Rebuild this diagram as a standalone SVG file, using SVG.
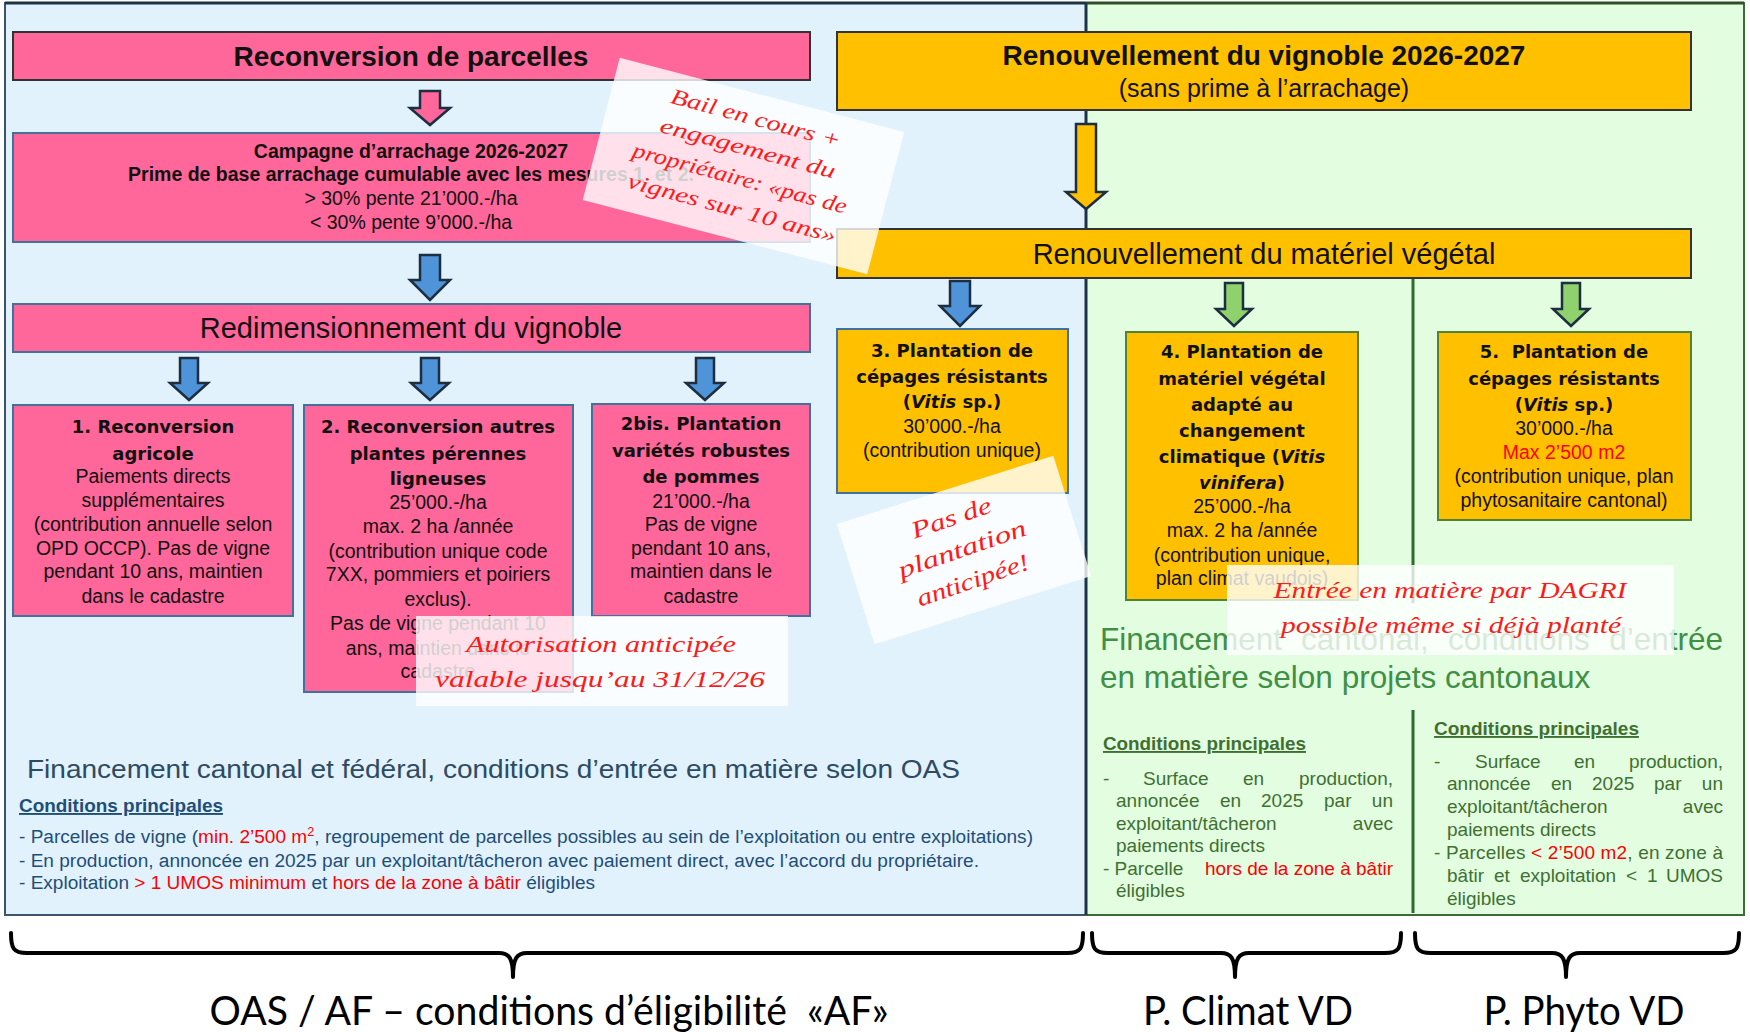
<svg xmlns="http://www.w3.org/2000/svg" width="1750" height="1032" viewBox="0 0 1750 1032">
<style>
text{font-family:"Liberation Sans",Arial,sans-serif;fill:#111}
.c{text-anchor:middle}
.e{text-anchor:end}
.t28{font-size:28px;font-weight:bold}
.t29{font-size:29px}
.sub{font-size:25px}
.cb{font-size:19.5px;font-weight:bold}
.b{font-size:19.5px}
.bh{font-family:"DejaVu Sans",Verdana,sans-serif;font-size:18px;font-weight:bold}
.pink{fill:#ff6699;stroke:#41719c;stroke-width:2}
.pinkT{fill:#ff6699;stroke:#333;stroke-width:2}
.org{fill:#ffc000;stroke:#333;stroke-width:2}
.orgB{fill:#ffc000;stroke:#41719c;stroke-width:2}
.orgG{fill:#ffc000;stroke:#548235;stroke-width:2}
.arB{fill:#4f93d8;stroke:#1c2e40;stroke-width:2.5}
.arG{fill:#8fd16d;stroke:#1c2e40;stroke-width:2.5}
.arP{fill:#ff6699;stroke:#1c2e40;stroke-width:2.5}
.arO{fill:#ffc000;stroke:#1c2e40;stroke-width:2.5}
.bl{font-size:18px;fill:#1f4e79}
.gl{font-size:19px;fill:#3f7030}
.gh{font-size:31.5px;fill:#3f8f45}
.cp{font-size:19px;font-weight:bold;text-decoration:underline}
.note{fill:#ffffff;fill-opacity:0.8}
.hw{font-family:"Liberation Serif","DejaVu Serif",serif;font-style:italic;fill:#ff1a1a;text-anchor:middle}
.brace{fill:none;stroke:#000;stroke-width:4;stroke-linejoin:round;stroke-linecap:round}
.lab{font-family:Lato,"Open Sans",sans-serif;font-size:40px;fill:#000;text-anchor:middle}
text.red,tspan.red{fill:#ff0000}
</style>
<defs>
<path id="arPink" d="M-10,0 H10 V17 H20 L0,34 L-20,17 H-10 Z"/>
<path id="arBig" d="M-10,0 H10 V25 H20 L0,45 L-20,25 H-10 Z"/>
<path id="arRow" d="M-9,0 H9 V25 H19 L0,42 L-19,25 H-9 Z"/>
<path id="arGr" d="M-9,0 H9 V26 H18 L0,43 L-18,26 H-9 Z"/>
<path id="arLong" d="M-10,0 H10 V68 H20 L0,85 L-20,68 H-10 Z"/>
</defs>
<rect width="1750" height="1032" fill="#ffffff"/>

<g id="panels">
<rect x="5" y="3" width="1081" height="912" fill="#e1f2fd" stroke="#3a556e" stroke-width="2"/>
<rect x="1086" y="3" width="658" height="912" fill="#e2fde0" stroke="#3b6b35" stroke-width="2"/>
<line x1="5" y1="3" x2="1086" y2="3" stroke="#1f3347" stroke-width="3"/>
<line x1="1086" y1="3" x2="1744" y2="3" stroke="#2f4f25" stroke-width="3"/>
<line x1="1086" y1="3" x2="1086" y2="915" stroke="#1f3347" stroke-width="3"/>
<line x1="1413" y1="278" x2="1413" y2="603" stroke="#2e6b2e" stroke-width="3"/>
<line x1="1413" y1="710" x2="1413" y2="913" stroke="#2e6b2e" stroke-width="3"/>
</g>

<g id="connectors">
<use href="#arPink" x="430" y="91" class="arP"/>
<use href="#arBig" x="430" y="255" class="arB"/>
<use href="#arRow" x="189" y="358" class="arB"/>
<use href="#arRow" x="430" y="358" class="arB"/>
<use href="#arRow" x="705" y="358" class="arB"/>
<use href="#arLong" x="1086" y="124" class="arO"/>
<use href="#arBig" x="960" y="281" class="arB"/>
<use href="#arGr" x="1234" y="283" class="arG"/>
<use href="#arGr" x="1571" y="283" class="arG"/>
</g>

<g id="reconversion">
<rect x="13" y="32" width="797" height="48" class="pinkT"/>
<text x="411" y="66" class="c t28">Reconversion de parcelles</text>
</g>

<g id="campagne">
<rect x="13" y="133" width="797" height="109" class="pink"/>
<text x="411" y="158" class="c cb">Campagne d’arrachage 2026-2027</text>
<text x="411" y="181" class="c cb">Prime de base arrachage cumulable avec les mesures 1. et 2.</text>
<text x="411" y="205" class="c b">&gt; 30% pente 21’000.-/ha</text>
<text x="411" y="229" class="c b">&lt; 30% pente 9’000.-/ha</text>
</g>

<g id="redimensionnement">
<rect x="13" y="304" width="797" height="48" class="pink"/>
<text x="411" y="338" class="c t29">Redimensionnement du vignoble</text>
</g>

<g id="mesure1">
<rect x="13" y="405" width="280" height="211" class="pink"/>
<text x="153" y="433" class="c bh">1. Reconversion</text>
<text x="153" y="460" class="c bh">agricole</text>
<text x="153" y="483" class="c b">Paiements directs</text>
<text x="153" y="507" class="c b">supplémentaires</text>
<text x="153" y="531" class="c b">(contribution annuelle selon</text>
<text x="153" y="555" class="c b">OPD OCCP). Pas de vigne</text>
<text x="153" y="578" class="c b">pendant 10 ans, maintien</text>
<text x="153" y="603" class="c b">dans le cadastre</text>
</g>

<g id="mesure2">
<rect x="304" y="405" width="269" height="287" class="pink"/>
<text x="438" y="433" class="c bh">2. Reconversion autres</text>
<text x="438" y="460" class="c bh">plantes pérennes</text>
<text x="438" y="485" class="c bh">ligneuses</text>
<text x="438" y="509" class="c b">25’000.-/ha</text>
<text x="438" y="533" class="c b">max. 2 ha /année</text>
<text x="438" y="558" class="c b">(contribution unique code</text>
<text x="438" y="581" class="c b">7XX, pommiers et poiriers</text>
<text x="438" y="606" class="c b">exclus).</text>
<text x="438" y="630" class="c b">Pas de vigne pendant 10</text>
<text x="438" y="655" class="c b">ans, maintien dans le</text>
<text x="438" y="678" class="c b">cadastre</text>
</g>

<g id="mesure2bis">
<rect x="592" y="404" width="218" height="212" class="pink"/>
<text x="701" y="430" class="c bh">2bis. Plantation</text>
<text x="701" y="457" class="c bh">variétés robustes</text>
<text x="701" y="483" class="c bh">de pommes</text>
<text x="701" y="508" class="c b">21’000.-/ha</text>
<text x="701" y="531" class="c b">Pas de vigne</text>
<text x="701" y="555" class="c b">pendant 10 ans,</text>
<text x="701" y="578" class="c b">maintien dans le</text>
<text x="701" y="603" class="c b">cadastre</text>
</g>

<g id="renouvellement">
<rect x="837" y="32" width="854" height="78" class="org"/>
<text x="1264" y="65" class="c t28">Renouvellement du vignoble 2026-2027</text>
<text x="1264" y="97" class="c sub">(sans prime à l’arrachage)</text>
</g>

<g id="materiel">
<rect x="837" y="229" width="854" height="49" class="org"/>
<text x="1264" y="264" class="c t29">Renouvellement du matériel végétal</text>
</g>

<g id="mesure3">
<rect x="837" y="329" width="231" height="164" class="orgB"/>
<text x="952" y="357" class="c bh">3. Plantation de</text>
<text x="952" y="383" class="c bh">cépages résistants</text>
<text x="952" y="408" class="c bh">(<tspan font-style="italic">Vitis</tspan> sp.)</text>
<text x="952" y="433" class="c b">30’000.-/ha</text>
<text x="952" y="457" class="c b">(contribution unique)</text>
</g>

<g id="mesure4">
<rect x="1126" y="332" width="232" height="268" class="orgG"/>
<text x="1242" y="358" class="c bh">4. Plantation de</text>
<text x="1242" y="385" class="c bh">matériel végétal</text>
<text x="1242" y="411" class="c bh">adapté au</text>
<text x="1242" y="437" class="c bh">changement</text>
<text x="1242" y="463" class="c bh">climatique (<tspan font-style="italic">Vitis</tspan></text>
<text x="1242" y="489" class="c bh"><tspan font-style="italic">vinifera</tspan>)</text>
<text x="1242" y="513" class="c b">25’000.-/ha</text>
<text x="1242" y="537" class="c b">max. 2 ha /année</text>
<text x="1242" y="562" class="c b">(contribution unique,</text>
<text x="1242" y="585" class="c b">plan climat vaudois)</text>
</g>

<g id="mesure5">
<rect x="1438" y="332" width="253" height="188" class="orgG"/>
<text x="1564" y="358" class="c bh" xml:space="preserve">5.  Plantation de</text>
<text x="1564" y="385" class="c bh">cépages résistants</text>
<text x="1564" y="411" class="c bh">(<tspan font-style="italic">Vitis</tspan> sp.)</text>
<text x="1564" y="435" class="c b">30’000.-/ha</text>
<text x="1564" y="459" class="c b red">Max 2’500 m2</text>
<text x="1564" y="483" class="c b">(contribution unique, plan</text>
<text x="1564" y="507" class="c b">phytosanitaire cantonal)</text>
</g>

<g id="conditions-oas">
<text x="27" y="778" font-size="26" style="fill:#2e4b63" textLength="933" lengthAdjust="spacingAndGlyphs">Financement cantonal et fédéral, conditions d’entrée en matière selon OAS</text>
<text x="19" y="812" class="cp" style="fill:#1f4e79" textLength="204" lengthAdjust="spacingAndGlyphs">Conditions principales</text>
<text x="19" y="843" class="bl" textLength="1014" lengthAdjust="spacingAndGlyphs">- Parcelles de vigne (<tspan class="red">min. 2’500 m</tspan><tspan class="red" font-size="12" dy="-7">2</tspan><tspan dy="7">, regroupement de parcelles possibles au sein de l’exploitation ou entre exploitations)</tspan></text>
<text x="19" y="867" class="bl" textLength="960" lengthAdjust="spacingAndGlyphs">- En production, annoncée en 2025 par un exploitant/tâcheron avec paiement direct, avec l’accord du propriétaire.</text>
<text x="19" y="889" class="bl" textLength="576" lengthAdjust="spacingAndGlyphs">- Exploitation <tspan class="red">&gt; 1 UMOS minimum</tspan> et <tspan class="red">hors de la zone à bâtir</tspan> éligibles</text>
</g>

<g id="conditions-cantonales">
<text x="1100" y="650" class="gh">Financement</text>
<text x="1301" y="650" class="gh">cantonal,</text>
<text x="1448" y="650" class="gh">conditions</text>
<text x="1723" y="650" class="gh e">d’entrée</text>
<text x="1100" y="688" class="gh">en matière selon projets cantonaux</text>
</g>

<g id="conditions-climat">
<text x="1103" y="750" class="cp" style="fill:#3f7030" textLength="203" lengthAdjust="spacingAndGlyphs">Conditions principales</text>
<text x="1103" y="785" class="gl">-</text>
<text x="1143" y="785" class="gl">Surface</text>
<text x="1243" y="785" class="gl">en</text>
<text x="1393" y="785" class="gl e">production,</text>
<text x="1116" y="807" class="gl">annoncée</text>
<text x="1220" y="807" class="gl">en</text>
<text x="1261" y="807" class="gl">2025</text>
<text x="1324" y="807" class="gl">par</text>
<text x="1393" y="807" class="gl e">un</text>
<text x="1116" y="830" class="gl">exploitant/tâcheron</text>
<text x="1393" y="830" class="gl e">avec</text>
<text x="1116" y="852" class="gl">paiements directs</text>
<text x="1103" y="875" class="gl">- Parcelle</text>
<text x="1393" y="875" class="gl e red">hors de la zone à bâtir</text>
<text x="1116" y="897" class="gl">éligibles</text>
</g>

<g id="conditions-phyto">
<text x="1434" y="735" class="cp" style="fill:#3f7030" textLength="205" lengthAdjust="spacingAndGlyphs">Conditions principales</text>
<text x="1434" y="768" class="gl">-</text>
<text x="1475" y="768" class="gl">Surface</text>
<text x="1574" y="768" class="gl">en</text>
<text x="1723" y="768" class="gl e">production,</text>
<text x="1447" y="790" class="gl">annoncée</text>
<text x="1551" y="790" class="gl">en</text>
<text x="1592" y="790" class="gl">2025</text>
<text x="1654" y="790" class="gl">par</text>
<text x="1723" y="790" class="gl e">un</text>
<text x="1447" y="813" class="gl">exploitant/tâcheron</text>
<text x="1723" y="813" class="gl e">avec</text>
<text x="1447" y="836" class="gl">paiements directs</text>
<text x="1434" y="859" class="gl" textLength="289" lengthAdjust="spacing">- Parcelles <tspan class="red">&lt; 2’500 m2</tspan>, en zone à</text>
<text x="1447" y="882" class="gl">bâtir</text>
<text x="1494" y="882" class="gl">et</text>
<text x="1520" y="882" class="gl">exploitation</text>
<text x="1626" y="882" class="gl">&lt;</text>
<text x="1647" y="882" class="gl">1</text>
<text x="1723" y="882" class="gl e">UMOS</text>
<text x="1447" y="905" class="gl">éligibles</text>
</g>

<g id="note-bail">
<rect x="-147" y="-73.5" width="294" height="147" class="note" transform="translate(743.5,166) rotate(14.6)"/>
<g transform="translate(744,163) rotate(15)">
<text x="0" y="-39" class="hw" font-size="22" textLength="175" lengthAdjust="spacingAndGlyphs">Bail en cours +</text>
<text x="0" y="-8" class="hw" font-size="22" textLength="181" lengthAdjust="spacingAndGlyphs">engagement du</text>
<text x="0" y="23" class="hw" font-size="22" textLength="221" lengthAdjust="spacingAndGlyphs">propriétaire: «pas de</text>
<text x="0" y="54" class="hw" font-size="22" textLength="215" lengthAdjust="spacingAndGlyphs">vignes sur 10 ans»</text>
</g>
</g>

<g id="note-anticipee">
<rect x="-113.5" y="-63" width="227" height="126" class="note" transform="translate(964,550) rotate(-17.5)"/>
<g transform="translate(962,549) rotate(-19)">
<text x="0" y="-25" class="hw" font-size="24" textLength="83" lengthAdjust="spacingAndGlyphs">Pas de</text>
<text x="0" y="8" class="hw" font-size="24" textLength="134" lengthAdjust="spacingAndGlyphs">plantation</text>
<text x="0" y="41" class="hw" font-size="24" textLength="117" lengthAdjust="spacingAndGlyphs">anticipée!</text>
</g>
</g>

<g id="note-autorisation">
<rect x="416" y="616" width="372" height="90" class="note"/>
<text x="601" y="652" class="hw" font-size="24" textLength="270" lengthAdjust="spacingAndGlyphs">Autorisation anticipée</text>
<text x="600" y="687" class="hw" font-size="24" textLength="330" lengthAdjust="spacingAndGlyphs">valable jusqu’au 31/12/26</text>
</g>

<g id="note-dagri">
<rect x="1227" y="565" width="447" height="90" class="note"/>
<text x="1450" y="598" class="hw" font-size="24" textLength="353" lengthAdjust="spacingAndGlyphs">Entrée en matière par DAGRI</text>
<text x="1451" y="633" class="hw" font-size="24" textLength="340" lengthAdjust="spacingAndGlyphs">possible même si déjà planté</text>
</g>

<g id="braces">
<path class="brace" d="M11,933 C11,948 13,953 27,953 L499,953 C509,953 513,958 513,977 C513,958 517,953 527,953 L1067,953 C1081,953 1083,948 1083,933"/>
<path class="brace" d="M1092,933 C1092,948 1094,953 1108,953 L1221,953 C1231,953 1235,958 1235,977 C1235,958 1239,953 1249,953 L1385,953 C1399,953 1401,948 1401,933"/>
<path class="brace" d="M1415,933 C1415,948 1417,953 1431,953 L1552,953 C1562,953 1566,958 1566,977 C1566,958 1570,953 1580,953 L1723,953 C1737,953 1739,948 1739,933"/>
</g>

<g id="labels">
<text x="549" y="1025" class="lab" textLength="679" lengthAdjust="spacingAndGlyphs" xml:space="preserve">OAS / AF – conditions d’éligibilité  «AF»</text>
<text x="1248" y="1025" class="lab" textLength="210" lengthAdjust="spacingAndGlyphs">P. Climat VD</text>
<text x="1584" y="1025" class="lab" textLength="201" lengthAdjust="spacingAndGlyphs">P. Phyto VD</text>
</g>
</svg>
